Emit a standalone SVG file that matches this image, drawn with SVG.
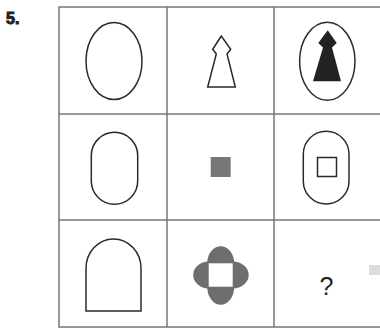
<svg xmlns="http://www.w3.org/2000/svg" width="380" height="330" viewBox="0 0 380 330">
<style>
.grid{fill:none;stroke:#777;stroke-width:1.5}
.ol{fill:none;stroke:#2a2a2a;stroke-width:1.5}
.lbl{font-family:"Liberation Sans",Arial,sans-serif;fill:#222}
</style>
<rect width="380" height="330" fill="#fff"/>
<text class="lbl" x="6" y="24" font-size="16" font-weight="bold" stroke="#222" stroke-width="1">5.</text>
<g id="grid">
<rect class="grid" x="59" y="7" width="324" height="320"/>
<line class="grid" x1="167" y1="7" x2="167" y2="327"/>
<line class="grid" x1="274" y1="7" x2="274" y2="327"/>
<line class="grid" x1="59" y1="114" x2="383" y2="114"/>
<line class="grid" x1="59" y1="220" x2="383" y2="220"/>
</g>
<g id="r1c1"><ellipse class="ol" cx="114" cy="61" rx="28" ry="38.5"/></g>
<g id="r1c2"><polygon class="ol" points="221.3,36 212.7,49.3 216.3,54 207.7,87 235.3,87 227,54 230.7,49.3"/></g>
<g id="r1c3">
<ellipse class="ol" cx="327.3" cy="61.3" rx="27.7" ry="39"/>
<polygon fill="#222" points="327.7,30.3 318.3,43 323,47.5 313,81.3 341,81.3 332,47.5 336.7,43"/>
</g>
<g id="r2c1"><rect class="ol" x="91.3" y="132.3" width="46.4" height="72" rx="23.2" ry="23.2"/></g>
<g id="r2c2"><rect x="210.7" y="157" width="20" height="20" fill="#777"/></g>
<g id="r2c3">
<rect class="ol" x="303.3" y="131.3" width="45.7" height="72.7" rx="22.8" ry="22.8"/>
<rect class="ol" x="317.5" y="157.5" width="19" height="19"/>
</g>
<g id="r3c1"><path class="ol" d="M86,311 V268.3 A27.5,29.3 0 0 1 141,268.3 V311 Z"/></g>
<g id="r3c2">
<g fill="#6e6e6e">
<ellipse cx="220.7" cy="263.3" rx="13.5" ry="17"/>
<ellipse cx="220.7" cy="286.7" rx="13.5" ry="18"/>
<ellipse cx="208.7" cy="275" rx="15.5" ry="13.5"/>
<ellipse cx="232.7" cy="275" rx="16" ry="13.5"/>
</g>
<rect x="208.7" y="263.3" width="24" height="23.4" fill="#fff"/>
</g>
<g id="r3c3">
<text class="lbl" x="326.5" y="295" font-size="25" text-anchor="middle">?</text>
<rect x="369" y="265" width="11" height="10" fill="#dcdcdc"/>
</g>
</svg>
